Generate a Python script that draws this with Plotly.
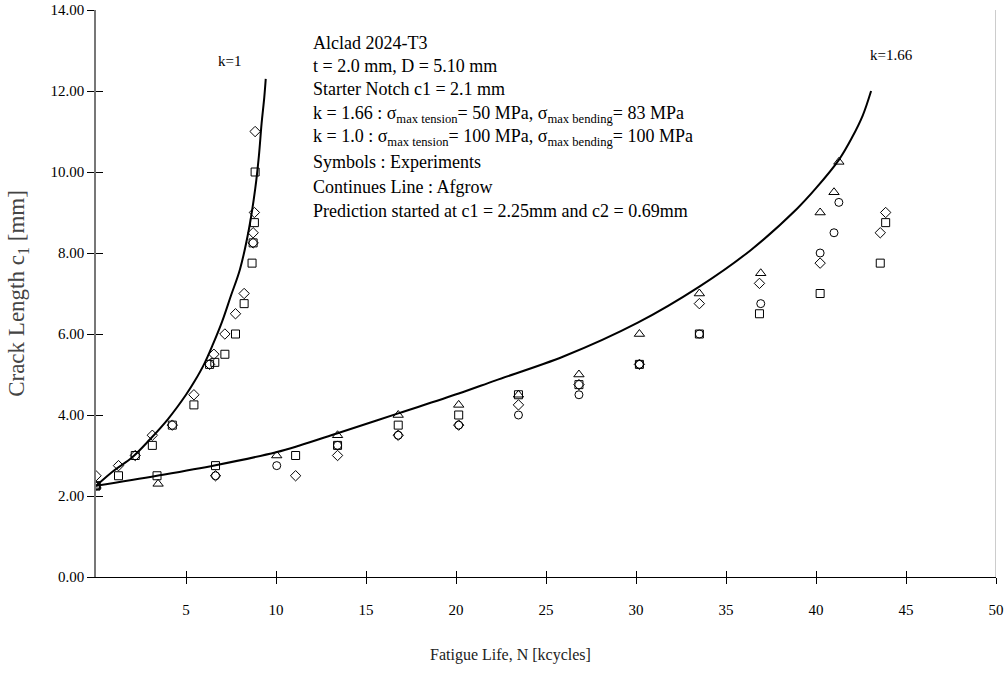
import plotly.graph_objects as go

# ---------------- data ----------------
# Afgrow predictions
k1_curve_n = [0, 1.0, 2.0, 3.0, 4.0, 5.0, 5.5, 6.0, 6.5, 7.0, 7.5, 8.0, 8.5, 8.85, 9.05, 9.2, 9.35, 9.43]
k1_curve_c = [2.25, 2.63, 2.95, 3.40, 3.90, 4.50, 4.85, 5.25, 5.75, 6.30, 6.95, 7.60, 8.60, 9.60, 10.40, 11.20, 11.85, 12.30]

k166_curve_n = [0, 3.39, 6.64, 10.0, 11.27, 13.42, 16.79, 20.15, 22.17, 26.0, 30.1, 33.52, 36.37, 38.96, 40.0, 41.27, 42.0, 42.6, 43.06]
k166_curve_c = [2.25, 2.50, 2.76, 3.08, 3.24, 3.55, 4.04, 4.53, 4.85, 5.45, 6.28, 7.17, 8.07, 9.10, 9.60, 10.30, 10.85, 11.40, 12.00]

# Experiments, k = 1.0
k1_diamond_n = [0, 1.25, 2.18, 3.13, 4.24, 5.44, 6.31, 6.55, 7.16, 7.75, 8.23, 8.73, 8.73, 8.80, 8.84]
k1_diamond_c = [2.5, 2.75, 3.0, 3.5, 3.75, 4.5, 5.25, 5.5, 6.0, 6.5, 7.0, 8.25, 8.5, 9.0, 11.0]
k1_square_n = [0, 1.25, 2.18, 3.13, 4.24, 5.44, 6.31, 6.6, 7.16, 7.75, 8.23, 8.67, 8.73, 8.80, 8.84]
k1_square_c = [2.25, 2.5, 3.0, 3.25, 3.75, 4.25, 5.25, 5.3, 5.5, 6.0, 6.75, 7.75, 8.25, 8.75, 10.0]

# Experiments, k = 1.66
k166_triangle_n = [0, 3.45, 10.04, 13.42, 16.79, 20.15, 23.47, 26.83, 30.19, 33.52, 36.93, 40.23, 41.0, 41.27]
k166_triangle_c = [2.25, 2.3, 3.0, 3.5, 4.0, 4.25, 4.5, 5.0, 6.0, 7.0, 7.5, 9.0, 9.5, 10.25]
k166_square_n = [0, 3.39, 6.64, 11.09, 13.42, 16.79, 20.15, 23.47, 26.83, 30.19, 33.52, 36.86, 40.23, 43.57, 43.87]
k166_square_c = [2.25, 2.5, 2.75, 3.0, 3.25, 3.75, 4.0, 4.5, 4.75, 5.25, 6.0, 6.5, 7.0, 7.75, 8.75]
k166_circle_n = [0, 6.64, 10.04, 13.42, 16.79, 20.15, 23.47, 26.83, 30.19, 33.52, 36.93, 40.23, 41.0, 41.27]
k166_circle_c = [2.25, 2.5, 2.75, 3.25, 3.5, 3.75, 4.0, 4.5, 5.25, 6.0, 6.75, 8.0, 8.5, 9.25]
k166_diamond_n = [6.64, 11.09, 13.42, 16.79, 20.15, 23.47, 26.83, 30.19, 33.52, 36.86, 40.23, 43.57, 43.87]
k166_diamond_c = [2.5, 2.5, 3.0, 3.5, 3.75, 4.25, 4.75, 5.25, 6.75, 7.25, 7.75, 8.5, 9.0]

x_tick_vals = [5, 10, 15, 20, 25, 30, 35, 40, 45, 50]
y_tick_vals = [0, 2, 4, 6, 8, 10, 12, 14]

notes = [
    "Alclad 2024-T3",
    "t = 2.0 mm, D = 5.10 mm",
    "Starter Notch c1 = 2.1 mm",
    "k = 1.66 : σ<sub>max tension</sub>= 50 MPa, σ<sub>max bending</sub>= 83 MPa",
    "k = 1.0 : σ<sub>max tension</sub>= 100 MPa, σ<sub>max bending</sub>= 100 MPa",
    "Symbols : Experiments",
    "Continues Line : Afgrow",
    "Prediction started at c1 = 2.25mm and c2 = 0.69mm",
]
note_py = [43, 66, 89, 114, 137, 162, 187, 211]  # pixel centres of the text lines

# ---------------- figure ----------------
FONT = "Liberation Serif, Times New Roman, serif"
fig = go.Figure()

for n, c in [(k1_curve_n, k1_curve_c), (k166_curve_n, k166_curve_c)]:
    fig.add_trace(go.Scatter(x=n, y=c, mode="lines", line=dict(color="black", width=2, shape="spline"),
                             showlegend=False, hoverinfo="skip"))

marker_sets = [
    (k1_diamond_n, k1_diamond_c, "diamond-open", 8),
    (k1_square_n, k1_square_c, "square-open", 8),
    (k166_triangle_n, k166_triangle_c, "triangle-up-open", 9),
    (k166_square_n, k166_square_c, "square-open", 8),
    (k166_circle_n, k166_circle_c, "circle-open", 8),
    (k166_diamond_n, k166_diamond_c, "diamond-open", 8),
]
for n, c, sym, sz in marker_sets:
    fig.add_trace(go.Scatter(x=n, y=c, mode="markers",
                             marker=dict(symbol=sym, size=sz, color="black", line=dict(color="black", width=1)),
                             showlegend=False))

# invisible trace on overlay axes (for crossing ticks)
fig.add_trace(go.Scatter(x=[0], y=[0], xaxis="x2", yaxis="y2", mode="markers",
                         marker=dict(opacity=0), showlegend=False, hoverinfo="skip"))

W, H = 1008, 673
M_L, M_R, M_T, M_B = 96, 12, 10, 96
PLOT_TOP, PLOT_BOT = M_T, H - M_B
PLOT_W = W - M_L - M_R

def paper_y(py):
    return (PLOT_BOT - py) / (PLOT_BOT - PLOT_TOP)

annotations = []
for txt, py in zip(notes, note_py):
    annotations.append(dict(x=11.95, xref="x", y=paper_y(py), yref="paper",
                            text=txt, showarrow=False, xanchor="left", yanchor="middle",
                            font=dict(family=FONT, size=18, color="black")))
annotations.append(dict(x=7.39, y=12.73, xref="x", yref="y", text="k=1", showarrow=False,
                        font=dict(family=FONT, size=15, color="black")))
annotations.append(dict(x=44.2, y=12.89, xref="x", yref="y", text="k=1.66", showarrow=False,
                        font=dict(family=FONT, size=15, color="black")))
# x-axis title (placed left of centre as in the reference)
annotations.append(dict(x=(510 - M_L) / PLOT_W, xref="paper", y=paper_y(655), yref="paper",
                        text="Fatigue Life, N [kcycles]", showarrow=False, xanchor="center", yanchor="middle",
                        font=dict(family=FONT, size=16, color="#222")))

fig.update_layout(
    width=W, height=H,
    margin=dict(l=M_L, r=M_R, t=M_T, b=M_B),
    paper_bgcolor="white", plot_bgcolor="white",
    font=dict(family=FONT, color="black"),
    showlegend=False,
    xaxis=dict(range=[0, 50], tickvals=x_tick_vals, ticks="outside", ticklen=6, tickcolor="black",
               showline=True, linecolor="black", linewidth=1, showgrid=False, zeroline=False,
               ticklabelstandoff=13, tickfont=dict(family=FONT, size=15, color="black"),
               automargin=False),
    yaxis=dict(range=[0, 14], tickvals=y_tick_vals, tickformat=".2f", ticks="outside", ticklen=7,
               tickcolor="black", showline=True, linecolor="#777", linewidth=1.5, showgrid=False,
               zeroline=False, tickfont=dict(family=FONT, size=15, color="black"),
               title=dict(text="Crack Length c<sub>1</sub> [mm]", standoff=19,
                          font=dict(family=FONT, size=23, color="#444")),
               automargin=False),
    xaxis2=dict(range=[0, 50], overlaying="x", anchor="y2", side="bottom", tickvals=x_tick_vals,
                ticks="inside", ticklen=6, tickcolor="black", showticklabels=False, showgrid=False,
                zeroline=False, showline=False),
    yaxis2=dict(range=[0, 14], overlaying="y", anchor="x2", side="left", tickvals=y_tick_vals,
                ticks="inside", ticklen=7, tickcolor="black", showticklabels=False, showgrid=False,
                zeroline=False, showline=False),
    annotations=annotations,
    shapes=[dict(type="line", xref="x", yref="y", x0=50, x1=50, y0=0, y1=14,
                 line=dict(color="#bbbbbb", width=1.5))],
)

fig.write_html("out.html", config={"displayModeBar": False},
               post_script="document.body.style.margin='0';")
